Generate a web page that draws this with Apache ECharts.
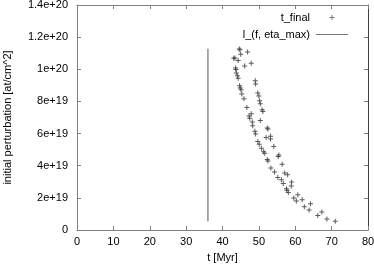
<!DOCTYPE html>
<html><head><meta charset="utf-8">
<script src="https://cdn.jsdelivr.net/npm/echarts@6/dist/echarts.min.js"></script>
<style>html,body{margin:0;padding:0;background:#fff}#c{width:374px;height:268px}</style>
</head><body><div id="c"></div>
<script>
const xTicks = [0,10,20,30,40,50,60,70,80];
const yTickLabels = ['0','2e+19','4e+19','6e+19','8e+19','1e+20','1.2e+20','1.4e+20'];
// t_final points: [t (Myr), initial perturbation in units of 1e19]
const tFinalT = [43.1,43.4,44.6,44.8,45.0,44.3,46.9,43.6,43.7,43.8,44.1,44.3,46.1,47.9,44.7,44.9,45.1,45.3,45.9,46.7,49.0,49.1,49.7,50.0,50.2,50.4,50.9,51.1,50.4,47.3,47.5,47.9,48.2,48.3,48.9,49.1,49.7,50.1,50.7,51.3,51.6,52.3,52.5,52.0,53.2,53.2,54.1,52.3,52.5,53.3,54.3,55.3,55.5,56.4,55.2,56.2,56.7,57.1,57.9,57.6,57.7,58.1,59.0,58.9,59.6,60.3,60.7,61.9,62.5,63.8,64.2,66.2,67.3,68.7,71.0];
const tFinalP = [10.68,10.7,11.26,11.22,10.93,10.54,11.08,10.08,9.98,9.77,9.6,9.44,10.2,10.37,8.98,8.84,8.73,8.46,8.17,7.63,9.29,9.08,8.53,8.34,8.05,7.86,7.49,7.38,6.82,7.09,6.95,7.24,6.72,6.49,6.14,5.97,5.5,5.33,5.08,4.87,4.77,6.35,6.28,5.75,5.83,5.66,5.19,4.38,4.29,3.86,3.61,4.58,4.67,4.09,3.26,3.13,2.9,3.55,3.44,2.57,2.47,2.34,2.99,2.74,1.99,1.8,2.2,1.89,1.45,1.24,1.64,0.91,1.12,0.68,0.54];
const lineT = [36, 36];
const lineP = [0.54, 11.28];

const plus = 'path://M-1,-0.2H1V0.2H-1ZM-0.2,-1H0.2V1H-0.2Z';
const font = 'Liberation Sans';
const chart = echarts.init(document.getElementById('c'), null, {renderer:'canvas'});
const axisCol = '#808080';
chart.setOption({
  animation:false,
  backgroundColor:'#fff',
  textStyle:{fontFamily:font},
  grid:{left:77,right:6,top:5,bottom:38,containLabel:false,outerBoundsMode:'none'},
  legend:{
    orient:'vertical', right:21, top:7, align:'right',
    itemWidth:32, itemHeight:5, itemGap:6,
    textStyle:{fontFamily:font,fontSize:11,color:'#000',padding:[0,1,0,0]},
    data:[
      {name:'t_final', icon:plus, itemStyle:{color:'#555'}},
      {name:'l_(f, eta_max)', icon:'path://M0,0H32V1H0Z', itemStyle:{color:'#777'}}
    ]
  },
  xAxis:[{
    type:'value', min:0, max:80, interval:10,
    name:'t [Myr]', nameLocation:'middle', nameGap:22,
    nameTextStyle:{fontFamily:font,fontSize:11,color:'#000'},
    axisLine:{show:true,onZero:false,lineStyle:{color:axisCol,width:1}},
    axisTick:{show:true,inside:true,length:4,lineStyle:{color:axisCol}},
    axisLabel:{fontFamily:font,fontSize:11,color:'#000',margin:6,
      formatter:v=>xTicks.indexOf(v)>=0?String(v):''},
    splitLine:{show:false}
  },{
    type:'value', min:0, max:80, interval:10, position:'top',
    axisLine:{show:true,onZero:false,lineStyle:{color:axisCol,width:1}},
    axisTick:{show:true,inside:true,length:4,lineStyle:{color:axisCol}},
    axisLabel:{show:false}, splitLine:{show:false}
  }],
  yAxis:[{
    type:'value', min:0, max:14, interval:2,
    name:'initial perturbation [at/cm^2]', nameLocation:'middle', nameGap:64,
    nameTextStyle:{fontFamily:font,fontSize:11,color:'#000'},
    axisLine:{show:true,onZero:false,lineStyle:{color:axisCol,width:1}},
    axisTick:{show:true,inside:true,length:4,lineStyle:{color:axisCol}},
    axisLabel:{fontFamily:font,fontSize:11,color:'#000',margin:9,
      formatter:v=>yTickLabels[Math.round(v/2)]},
    splitLine:{show:false}
  },{
    type:'value', min:0, max:14, interval:2, position:'right',
    axisLine:{show:true,onZero:false,lineStyle:{color:'#404040',width:1}},
    axisTick:{show:true,inside:true,length:4,lineStyle:{color:axisCol}},
    axisLabel:{show:false}, splitLine:{show:false}
  }],
  series:[{
    name:'t_final', type:'scatter', xAxisIndex:0, yAxisIndex:0,
    symbol:plus, symbolSize:5,
    itemStyle:{color:'#333'},
    data:tFinalT.map((t,i)=>[t,tFinalP[i]])
  },{
    name:'l_(f, eta_max)', type:'line', xAxisIndex:0, yAxisIndex:0,
    showSymbol:false, symbol:'none',
    lineStyle:{color:'#555',width:1},
    itemStyle:{color:'#555'},
    data:lineT.map((t,i)=>[t,lineP[i]])
  }]
});
</script></body></html>
